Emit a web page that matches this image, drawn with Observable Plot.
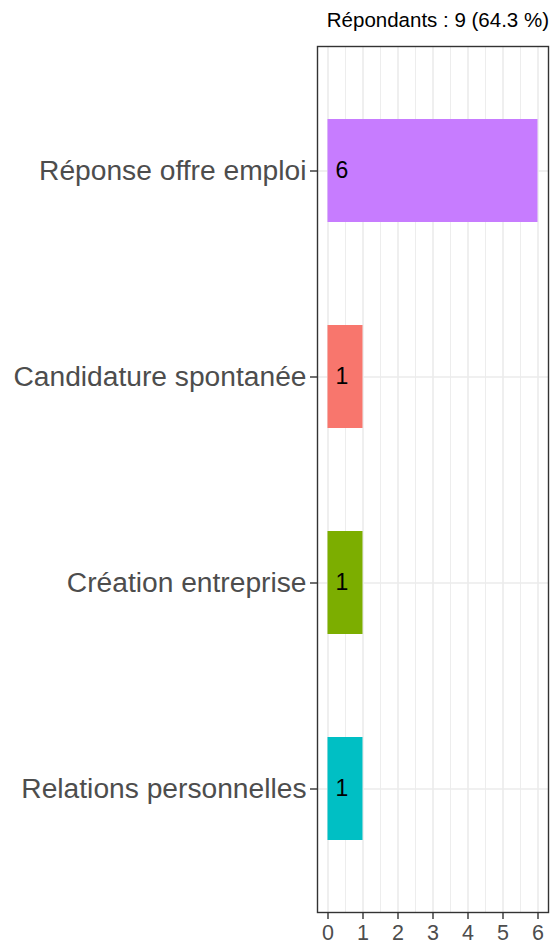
<!DOCTYPE html>
<html><head><meta charset="utf-8">
<script src="https://cdn.jsdelivr.net/npm/d3@7"></script>
<script src="https://cdn.jsdelivr.net/npm/@observablehq/plot@0.6"></script>
<style>
body{margin:0;background:#fff;font-family:"Liberation Sans",Arial,Helvetica,sans-serif;}
#title{height:40px;line-height:40px;font-size:20.5px;text-align:right;padding-right:1px;color:#000;box-sizing:border-box;}
</style>
</head><body>
<div id="title">Répondants : 9 (64.3 %)</div>
<div id="chart"></div>
<script>
const categories = ["Réponse offre emploi","Candidature spontanée","Création entreprise","Relations personnelles"];
const counts = [6,1,1,1];
const colors = ["#C77CFF","#F8766D","#7CAE00","#00BFC4"];
const xTicks = [0,1,2,3,4,5,6];
const xMinor = [0.5,1.5,2.5,3.5,4.5,5.5];

const data = categories.map((c,i)=>({cat:c, n:counts[i]}));

const plot = Plot.plot({
  width:550, height:905,
  marginLeft:317, marginRight:2, marginTop:6, marginBottom:33,
  style:{fontFamily:'"Liberation Sans",Arial,sans-serif', background:"#fff"},
  x:{domain:[-0.3,6.3]},
  y:{domain:categories, paddingInner:0.5, paddingOuter:0.35},
  color:{domain:categories, range:colors},
  marks:[
    Plot.ruleX(xMinor,{stroke:"#EBEBEB", strokeWidth:0.9}),
    Plot.ruleX(xTicks,{stroke:"#EBEBEB", strokeWidth:1.6}),
    Plot.tickY(categories,{y:d=>d, stroke:"#EBEBEB", strokeWidth:1.6}),
    Plot.barX(data,{y:"cat", x:"n", fill:"cat"}),
    Plot.text(data,{y:"cat", x:()=>0, text:d=>String(d.n), textAnchor:"start", dx:7.5, fontSize:23, fill:"#000"}),
    Plot.frame({stroke:"#333", strokeWidth:1.4}),
    Plot.axisX(xTicks,{tickSize:7, tickPadding:5, fontSize:21.5, color:"#4D4D4D", stroke:"#333", strokeWidth:1.4, tickFormat:d=>String(d), label:null}),
    Plot.axisY(categories,{tickSize:7, tickPadding:4, fontSize:28.2, color:"#4D4D4D", stroke:"#333", strokeWidth:1.4, label:null})
  ]
});
document.getElementById("chart").appendChild(plot);
</script>
</body></html>
